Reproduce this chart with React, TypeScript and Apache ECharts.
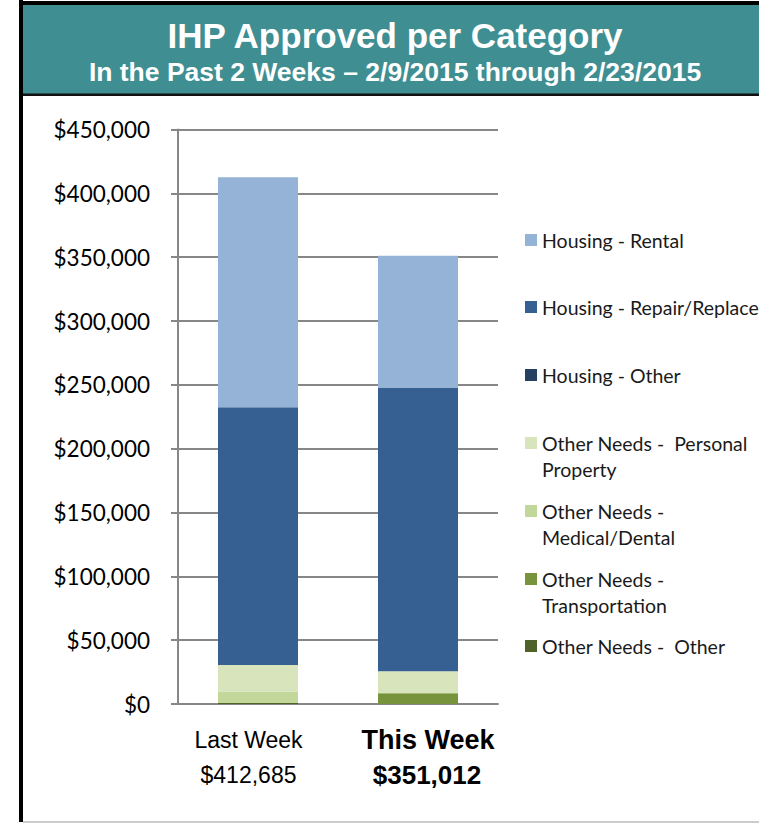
import React, { useEffect, useRef } from "react";
import * as echarts from "echarts";

const categories = ["Last Week", "This Week"];
const totals = ["$412,685", "$351,012"];

const housingRental = [180160, 103052];
const housingRepair = [201900, 222360];
const housingOther = [0, 0];
const personalProperty = [20900, 16900];
const medicalDental = [8925, 300];
const transportation = [0, 8400];
const otherNeedsOther = [800, 0];

const yMin = 0;
const yMax = 450000;
const yInterval = 50000;

const seriesDefs = [
  { name: "Other Needs -  Other", data: otherNeedsOther, color: "#4f6228", label: "Other Needs -  Other", top: 633, two: false },
  { name: "Other Needs - Transportation", data: transportation, color: "#77933c", label: "Other Needs -\nTransportation", top: 566, two: true },
  { name: "Other Needs - Medical/Dental", data: medicalDental, color: "#c4d79b", label: "Other Needs -\nMedical/Dental", top: 498, two: true },
  { name: "Other Needs -  Personal Property", data: personalProperty, color: "#d8e4bc", label: "Other Needs -  Personal\nProperty", top: 430, two: true },
  { name: "Housing - Other", data: housingOther, color: "#254061", label: "Housing - Other", top: 362, two: false },
  { name: "Housing - Repair/Replace", data: housingRepair, color: "#366092", label: "Housing - Repair/Replace", top: 294, two: false },
  { name: "Housing - Rental", data: housingRental, color: "#95b3d7", label: "Housing - Rental", top: 227, two: false },
];

export default function App() {
  const ref = useRef<HTMLDivElement>(null);

  useEffect(() => {
    if (!ref.current) return;
    const chart = echarts.init(ref.current, null, { renderer: "svg" });
    const gray = "#878787";
    const option: any = {
      animation: false,
      backgroundColor: "#ffffff",
      graphic: [
        { type: "rect", shape: { x: 19, y: 0, width: 4, height: 822 }, style: { fill: "#000" } },
        { type: "rect", shape: { x: 19, y: 1, width: 760, height: 4 }, style: { fill: "#000" } },
        { type: "rect", shape: { x: 23, y: 5, width: 760, height: 89 }, style: { fill: "#3f8e92" } },
        { type: "rect", shape: { x: 23, y: 93.5, width: 760, height: 2.5 }, style: { fill: "#111" } },
        { type: "rect", shape: { x: 23, y: 821, width: 760, height: 2 }, style: { fill: "#cccccc" } },
        {
          type: "text",
          x: 395,
          y: 35,
          style: {
            text: "IHP Approved per Category",
            fill: "#ffffff",
            fontFamily: "Liberation Sans",
            fontWeight: "bold",
            fontSize: 35,
            align: "center",
            verticalAlign: "middle",
          },
        },
        {
          type: "text",
          x: 395,
          y: 72,
          style: {
            text: "In the Past 2 Weeks \u2013 2/9/2015 through 2/23/2015",
            fill: "#ffffff",
            fontFamily: "Liberation Sans",
            fontWeight: "bold",
            fontSize: 26.5,
            align: "center",
            verticalAlign: "middle",
          },
        },
      ],
      legend: seriesDefs.map((s) => ({
        data: [s.name],
        left: 525,
        top: s.top,
        orient: "vertical",
        padding: 0,
        selectedMode: false,
        itemWidth: 12,
        itemHeight: s.two ? 38 : 12,
        icon: s.two ? "path://M0,0L12,0L12,12L0,12ZM0,38L12,38" : "rect",
        formatter: () => s.label,
        textStyle: {
          fontFamily: "Lato",
          fontSize: 19.5,
          lineHeight: 26,
          color: "#1a1a1a",
        },
      })),
      grid: { left: 178, right: 261, top: 129.5, bottom: 119 },
      xAxis: {
        type: "category",
        data: categories,
        axisLine: { show: true, lineStyle: { color: gray, width: 2 } },
        axisTick: { show: false },
        axisLabel: {
          margin: 18,
          interval: 0,
          formatter: (value: string, idx: number) =>
            idx === 0 ? `{a|${value}}\n{b|${totals[0]}}` : `{c|${value}}\n{d|${totals[1]}}`,
          rich: {
            a: { fontFamily: "Liberation Sans", fontSize: 23, lineHeight: 35, color: "#000", padding: [0, 19, 0, 0] },
            b: { fontFamily: "Liberation Sans", fontSize: 23, lineHeight: 35, color: "#000", padding: [0, 19, 0, 0] },
            c: { fontFamily: "Liberation Sans", fontWeight: "bold", fontSize: 27, lineHeight: 35, color: "#000", padding: [0, 0, 0, 20] },
            d: { fontFamily: "Liberation Sans", fontWeight: "bold", fontSize: 26, lineHeight: 35, color: "#000", padding: [0, 0, 0, 18] },
          },
        },
      },
      yAxis: {
        type: "value",
        min: yMin,
        max: yMax,
        interval: yInterval,
        axisLine: { show: true, lineStyle: { color: gray, width: 2 } },
        axisTick: { show: true, length: 7, lineStyle: { color: gray, width: 2 } },
        splitLine: { show: true, lineStyle: { color: gray, width: 2 } },
        axisLabel: {
          margin: 28,
          fontFamily: "Lato",
          fontSize: 22.5,
          color: "#000",
          formatter: (v: number) => "$" + v.toLocaleString("en-US"),
        },
      },
      series: seriesDefs.map((s) => ({
        name: s.name,
        type: "bar",
        stack: "total",
        barWidth: "50%",
        data: s.data,
        itemStyle: { color: s.color },
        emphasis: { disabled: true },
      })),
    };
    chart.setOption(option);
    return () => chart.dispose();
  }, []);

  return (
    <div
      ref={ref}
      style={{ position: "absolute", left: 0, top: 0, width: 759, height: 823 }}
    />
  );
}
